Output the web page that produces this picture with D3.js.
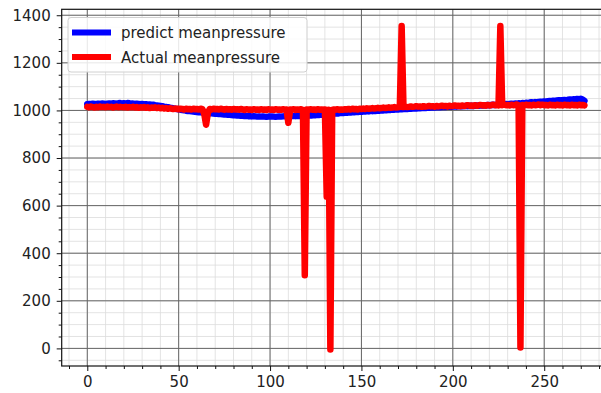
<!DOCTYPE html>
<html>
<head>
<meta charset="utf-8">
<script src="https://cdn.jsdelivr.net/npm/d3@7"></script>
<style>
  body { margin: 0; background: #fff; }
  text { font-family: "DejaVu Sans", sans-serif; }
</style>
</head>
<body>
<div id="chart"></div>
<script>
const width = 601,
    height = 393;

// predicted values (blue)
const predict = [
    1026,1027,1026,1028,1027,1026,1028,1027,1029,1028,
    1027,1028,1029,1028,1030,1029,1028,1030,1031,1029,
    1030,1029,1031,1030,1028,1029,1027,1028,1027,1026,
    1027,1025,1026,1024,1025,1023,1024,1022,1021,1020,
    1019,1018,1016,1015,1013,1012,1010,1009,1007,1006,
    1005,1003,1002,1001,999,998,997,996,995,994,
    993,992,992,991,990,990,989,988,988,987,
    986,986,985,985,984,983,983,982,982,981,
    980,980,979,979,978,978,977,977,976,976,
    975,976,975,974,975,974,975,974,973,974,
    974,975,974,973,974,975,974,975,976,975,
    976,975,976,977,976,977,978,977,978,979,
    978,979,980,979,981,980,982,981,983,982,
    984,983,985,986,985,987,988,987,989,990,
    989,991,990,992,991,993,992,994,993,995,
    994,996,995,997,996,998,997,999,998,1000,
    999,1001,1000,1002,1001,1003,1002,1004,1003,1005,
    1004,1006,1005,1006,1007,1006,1008,1007,1008,1009,
    1008,1010,1009,1010,1011,1010,1012,1011,1012,1013,
    1012,1013,1014,1013,1014,1015,1014,1015,1016,1015,
    1016,1017,1016,1017,1018,1017,1018,1019,1018,1019,
    1020,1019,1020,1021,1020,1021,1022,1021,1022,1023,
    1022,1023,1024,1023,1024,1025,1024,1025,1026,1027,
    1026,1027,1028,1027,1029,1028,1030,1029,1031,1030,
    1032,1031,1033,1034,1033,1035,1034,1036,1037,1036,
    1038,1037,1039,1040,1039,1041,1040,1042,1043,1041,
    1043,1044,1042,1045,1046,1044,1047,1046,1048,1047,
    1049,1046,1040
];

// actual values (red)
const actual = [
    1015,1013,1016,1014,1012,1015,1013,1016,1014,1015,
    1013,1016,1014,1015,1012,1014,1016,1013,1015,1014,
    1013,1015,1012,1014,1013,1015,1012,1014,1011,1013,
    1012,1014,1011,1013,1010,1012,1011,1013,1010,1012,
    1009,1011,1008,1010,1007,1009,1008,1006,1008,1007,
    1005,1007,1006,1004,1007,1005,1006,1004,1007,1005,
    1006,1004,1007,1005,985,940,990,1006,1004,1007,
    1005,1006,1004,1007,1005,1003,1006,1004,1005,1003,
    1006,1004,1005,1003,1006,1004,1002,1005,1003,1004,
    1002,1005,1003,1004,1002,1005,1003,1004,1002,1005,
    1003,1004,1002,1005,1003,1004,1002,1005,1003,1004,
    948,1004,1003,1005,1002,1004,1003,1005,1002,307,
    1004,1002,1005,1003,1004,1002,1005,1003,1004,1002,
    1004,638,1003,-5,1002,1004,1003,1005,1002,1004,
    1003,1005,1004,1006,1004,1007,1005,1006,1004,1007,
    1006,1008,1006,1009,1007,1008,1010,1008,1009,1011,
    1009,1010,1012,1010,1011,1013,1011,1012,1014,1012,
    1013,1015,1355,1014,1016,1014,1015,1017,1015,1016,
    1018,1016,1017,1015,1018,1016,1017,1019,1017,1018,
    1016,1019,1017,1018,1020,1018,1019,1017,1020,1018,
    1019,1021,1019,1020,1018,1021,1019,1020,1022,1020,
    1021,1019,1022,1020,1021,1023,1021,1022,1020,1023,
    1021,1022,1024,1022,1023,1021,1355,1022,1024,1022,
    1023,1021,1024,1022,1023,1025,1022,4,1023,1021,
    1024,1022,1023,1021,1024,1022,1023,1025,1022,1024,
    1022,1023,1021,1024,1022,1023,1021,1024,1022,1023,
    1021,1024,1022,1023,1021,1024,1022,1023,1021,1024,
    1022,1023,1021
];

const xTicks = [0, 50, 100, 150, 200, 250];
const yTicks = [0, 200, 400, 600, 800, 1000, 1200, 1400];
const labels = ['predict meanpressure', 'Actual meanpressure'];

const svg = d3.select('#chart')
    .append('svg')
    .attr('width', width)
    .attr('height', height);

// plot area (right side runs off the picture)
const plotLeft = 61.7, plotTop = 9.3, plotRight = 610, plotBottom = 366;

const x = d3.scaleLinear()
    .domain([-14, 286])
    .range([plotLeft, plotRight]);

const y = d3.scaleLinear()
    .domain([-74, 1425])
    .range([plotBottom, plotTop]);

svg.append('clipPath').attr('id', 'clip')
    .append('rect')
    .attr('x', plotLeft).attr('y', plotTop)
    .attr('width', plotRight - plotLeft).attr('height', plotBottom - plotTop);

const grid = svg.append('g').attr('clip-path', 'url(#clip)');

// minor grid
grid.selectAll('.vminor')
    .data(d3.range(-10, 290, 10))
    .enter().append('line')
    .attr('x1', d => x(d)).attr('x2', d => x(d))
    .attr('y1', plotTop).attr('y2', plotBottom)
    .attr('stroke', '#dcdcdc').attr('stroke-width', 0.8);

grid.selectAll('.hminor')
    .data(d3.range(-50, 1450, 50))
    .enter().append('line')
    .attr('y1', d => y(d)).attr('y2', d => y(d))
    .attr('x1', plotLeft).attr('x2', plotRight)
    .attr('stroke', '#dcdcdc').attr('stroke-width', 0.8);

// major grid
grid.selectAll('.vmajor')
    .data(xTicks)
    .enter().append('line')
    .attr('x1', d => x(d)).attr('x2', d => x(d))
    .attr('y1', plotTop).attr('y2', plotBottom)
    .attr('stroke', '#666').attr('stroke-width', 1);

grid.selectAll('.hmajor')
    .data(yTicks)
    .enter().append('line')
    .attr('y1', d => y(d)).attr('y2', d => y(d))
    .attr('x1', plotLeft).attr('x2', plotRight)
    .attr('stroke', '#666').attr('stroke-width', 1);

// lines
const line = d3.line()
    .x((d, i) => x(i))
    .y(d => y(d));

const plot = svg.append('g').attr('clip-path', 'url(#clip)');

plot.append('path')
    .datum(predict)
    .attr('d', line)
    .attr('fill', 'none')
    .attr('stroke', '#0000ff')
    .attr('stroke-width', 6.5)
    .attr('stroke-linejoin', 'round')
    .attr('stroke-linecap', 'round');

plot.append('path')
    .datum(actual)
    .attr('d', line)
    .attr('fill', 'none')
    .attr('stroke', '#ff0000')
    .attr('stroke-width', 6.5)
    .attr('stroke-linejoin', 'round')
    .attr('stroke-linecap', 'round');

// axes
svg.append('g')
    .attr('transform', `translate(0,${plotBottom})`)
    .call(d3.axisBottom(x).tickValues(xTicks).tickSize(5).tickPadding(5).tickFormat(d3.format('d')));

svg.append('g')
    .attr('transform', `translate(0,${plotBottom})`)
    .call(d3.axisBottom(x).tickValues(d3.range(-10, 290, 10).filter(d => d % 50 !== 0)).tickSize(3).tickFormat(''));

svg.append('g')
    .attr('transform', `translate(${plotLeft},0)`)
    .call(d3.axisLeft(y).tickValues(yTicks).tickSize(5).tickPadding(6).tickFormat(d3.format('d')));

svg.append('g')
    .attr('transform', `translate(${plotLeft},0)`)
    .call(d3.axisLeft(y).tickValues(d3.range(-50, 1450, 50).filter(d => d % 200 !== 0)).tickSize(3).tickFormat(''));

svg.selectAll('.domain').remove();
svg.selectAll('.tick line').attr('stroke', '#111');
svg.selectAll('.tick text')
    .attr('font-size', 15)
    .attr('fill', '#222')
    .style('font-family', '"DejaVu Sans", sans-serif');

// spines
svg.append('rect')
    .attr('x', plotLeft).attr('y', plotTop)
    .attr('width', plotRight - plotLeft).attr('height', plotBottom - plotTop)
    .attr('fill', 'none')
    .attr('stroke', '#111')
    .attr('stroke-width', 1.2);

// legend
const legend = svg.append('g');
legend.append('rect')
    .attr('x', 68).attr('y', 17.5)
    .attr('width', 239).attr('height', 54.5)
    .attr('rx', 3)
    .attr('fill', 'rgba(255,255,255,0.85)')
    .attr('stroke', '#d0d0d0');

const colors = ['#0000ff', '#ff0000'];
labels.forEach(function(name, i) {
    const ly = 32.5 + i * 24.5;
    legend.append('line')
        .attr('x1', 72).attr('x2', 111)
        .attr('y1', ly).attr('y2', ly)
        .attr('stroke', colors[i])
        .attr('stroke-width', 6);
    legend.append('text')
        .attr('x', 121)
        .attr('y', ly + 5.5)
        .attr('font-size', 15)
        .attr('fill', '#222')
        .text(name);
});
</script>
</body>
</html>
